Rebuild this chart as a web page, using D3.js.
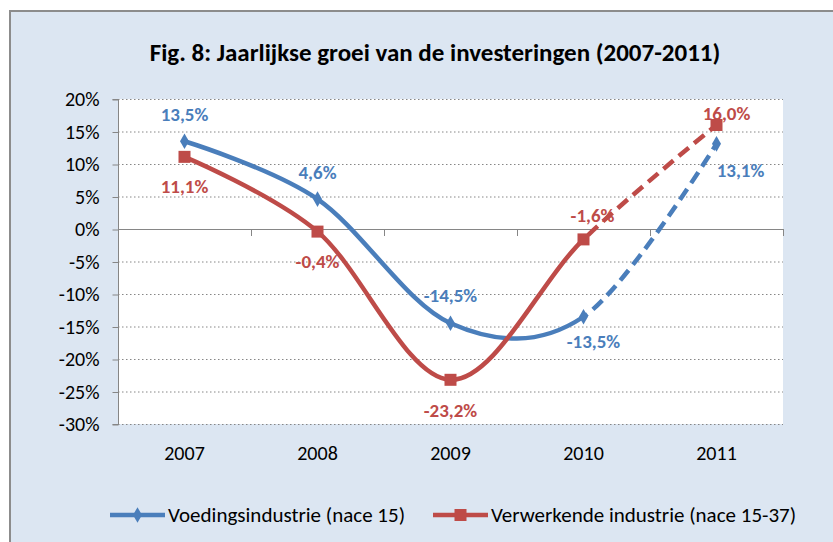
<!DOCTYPE html>
<html lang="nl">
<head>
  <meta charset="utf-8">
  <title>Jaarlijkse groei van de investeringen</title>
  <script src="https://d3js.org/d3.v7.min.js"></script>
  <style>
    body { margin: 0; background: #fff; }
    text { font-family: Carlito, 'Liberation Sans Narrow', 'Open Sans', sans-serif; }
    .title { font-size: 25px; font-weight: bold; fill: #000; }
    .yAxis text, .xAxis text { font-size: 20px; fill: #000; }
    .yAxis path, .yAxis line { stroke: #868686; }
    .grid line { stroke: #868686; stroke-dasharray: 1.5 2.5; }
    .label { font-size: 19px; font-weight: bold; }
    .legend text { font-size: 21px; fill: #000; }
  </style>
</head>
<body>
<div id="chart"></div>
<script>

var years = ['2007', '2008', '2009', '2010', '2011'];
var voeding = [13.5, 4.6, -14.5, -13.5, 13.1];
var verwerkend = [11.1, -0.4, -23.2, -1.6, 16.0];
var yTicks = [-30, -25, -20, -15, -10, -5, 0, 5, 10, 15, 20];
var seriesNames = ['Voedingsindustrie (nace 15)', 'Verwerkende industrie (nace 15-37)'];

var W = 833, H = 542;
var plot = { left: 118, right: 783, top: 99, bottom: 424 };
var colors = ['#4a7ebb', '#be4b48'];

// label offsets (dx, dy) relative to each point
var labelOffsets = [
  [[0, -27], [0, -27], [0, -28], [10, 25], [24, 26]],
  [[0, 29], [0, 30], [0, 31], [9, -24], [10, -12]]
];

var svg = d3.select('#chart').append('svg')
  .attr('width', W).attr('height', H);

svg.append('rect')
  .attr('x', 0).attr('y', 0).attr('width', W).attr('height', H)
  .attr('fill', '#fff');

svg.append('rect')
  .attr('x', 10).attr('y', 11).attr('width', W + 10).attr('height', H + 10)
  .attr('fill', '#dce6f2')
  .attr('stroke', '#8c8c8c').attr('stroke-width', 2);

svg.append('text')
  .attr('class', 'title')
  .attr('x', 435).attr('y', 61)
  .attr('text-anchor', 'middle')
  .text('Fig. 8: Jaarlijkse groei van de investeringen (2007-2011)');

var xScale = d3.scaleBand()
  .domain(years)
  .range([plot.left, plot.right]);

var yScale = d3.scaleLinear()
  .domain([-30, 20])
  .range([plot.bottom, plot.top]);

var cx = function(d) { return xScale(d) + xScale.bandwidth() / 2; };

svg.append('rect')
  .attr('x', plot.left).attr('y', plot.top)
  .attr('width', plot.right - plot.left).attr('height', plot.bottom - plot.top)
  .attr('fill', '#fff');

// dotted gridlines
svg.append('g')
  .attr('class', 'grid')
  .selectAll('line')
  .data(yTicks.filter(function(d) { return d !== 0; }))
  .enter()
  .append('line')
  .attr('x1', plot.left).attr('x2', plot.right)
  .attr('y1', function(d) { return yScale(d) + 0.5; })
  .attr('y2', function(d) { return yScale(d) + 0.5; });

var yAxis = d3.axisLeft(yScale)
  .tickValues(yTicks)
  .tickSize(6)
  .tickPadding(13)
  .tickFormat(function(d) { return d + '%'; });

svg.append('g')
  .attr('class', 'yAxis')
  .attr('transform', 'translate(' + (plot.left + 0.5) + ',0.5)')
  .call(yAxis)
  .call(function(g) { g.select('.domain').attr('d', 'M-6,' + plot.top + 'H0V' + plot.bottom + 'H-6'); });

// category axis crossing at 0
var boundaries = years.map(function(d) { return xScale(d); }).concat([plot.right]);
var xAxisG = svg.append('g').attr('class', 'xAxis');

xAxisG.append('line')
  .attr('x1', plot.left).attr('x2', plot.right)
  .attr('y1', yScale(0) + 0.5).attr('y2', yScale(0) + 0.5)
  .attr('stroke', '#868686');

xAxisG.selectAll('.tick')
  .data(boundaries)
  .enter()
  .append('line')
  .attr('x1', function(d) { return Math.round(d) + 0.5; })
  .attr('x2', function(d) { return Math.round(d) + 0.5; })
  .attr('y1', yScale(0))
  .attr('y2', yScale(0) + 7)
  .attr('stroke', '#868686');

xAxisG.selectAll('.yearLabel')
  .data(years)
  .enter()
  .append('text')
  .attr('x', cx)
  .attr('y', 460)
  .attr('text-anchor', 'middle')
  .text(function(d) { return d; });

// lines
var defs = svg.append('defs');
var splitX = cx('2010');

defs.append('clipPath').attr('id', 'clipSolid')
  .append('rect').attr('x', 0).attr('y', 0).attr('width', splitX).attr('height', H);
defs.append('clipPath').attr('id', 'clipDash')
  .append('rect').attr('x', splitX).attr('y', 0).attr('width', W - splitX).attr('height', H);

var line = d3.line()
  .x(function(d, i) { return cx(years[i]); })
  .y(function(d) { return yScale(d); })
  .curve(d3.curveCardinal.tension(0));

var allSeries = [voeding, verwerkend];

allSeries.forEach(function(values, s) {
  var g = svg.append('g').attr('class', 'series');

  g.append('path')
    .attr('d', line(values))
    .attr('fill', 'none')
    .attr('stroke', colors[s])
    .attr('stroke-width', 4.5)
    .attr('clip-path', 'url(#clipSolid)');

  g.append('path')
    .attr('d', line(values))
    .attr('fill', 'none')
    .attr('stroke', colors[s])
    .attr('stroke-width', 4.5)
    .attr('stroke-dasharray', '13 7')
    .attr('clip-path', 'url(#clipDash)');
});

// markers
var diamond = d3.symbol().type(d3.symbolDiamond).size(70);

svg.append('g').selectAll('path')
  .data(voeding)
  .enter()
  .append('path')
  .attr('d', diamond)
  .attr('transform', function(d, i) { return 'translate(' + cx(years[i]) + ',' + yScale(d) + ')'; })
  .attr('fill', colors[0]);

svg.append('g').selectAll('rect')
  .data(verwerkend)
  .enter()
  .append('rect')
  .attr('x', function(d, i) { return cx(years[i]) - 6; })
  .attr('y', function(d) { return yScale(d) - 6; })
  .attr('width', 12).attr('height', 12)
  .attr('fill', colors[1]);

// data labels
var fmt = function(d) { return d.toFixed(1).replace('.', ',') + '%'; };

allSeries.forEach(function(values, s) {
  svg.append('g').selectAll('text')
    .data(values)
    .enter()
    .append('text')
    .attr('class', 'label')
    .attr('x', function(d, i) { return cx(years[i]) + labelOffsets[s][i][0]; })
    .attr('y', function(d, i) { return yScale(d) + labelOffsets[s][i][1]; })
    .attr('dy', '0.35em')
    .attr('text-anchor', 'middle')
    .attr('fill', colors[s])
    .text(fmt);
});

// legend
var legend = svg.append('g').attr('class', 'legend');
var legendX = [110, 433];

seriesNames.forEach(function(name, s) {
  var g = legend.append('g').attr('transform', 'translate(' + legendX[s] + ',515)');
  g.append('line')
    .attr('x1', 0).attr('x2', 55)
    .attr('stroke', colors[s]).attr('stroke-width', 4.5);
  if (s === 0) {
    g.append('path').attr('d', diamond).attr('transform', 'translate(27.5,0)').attr('fill', colors[s]);
  } else {
    g.append('rect').attr('x', 21.5).attr('y', -6).attr('width', 12).attr('height', 12).attr('fill', colors[s]);
  }
  g.append('text')
    .attr('x', 58).attr('dy', '0.35em')
    .text(name);
});

</script>
</body>
</html>
